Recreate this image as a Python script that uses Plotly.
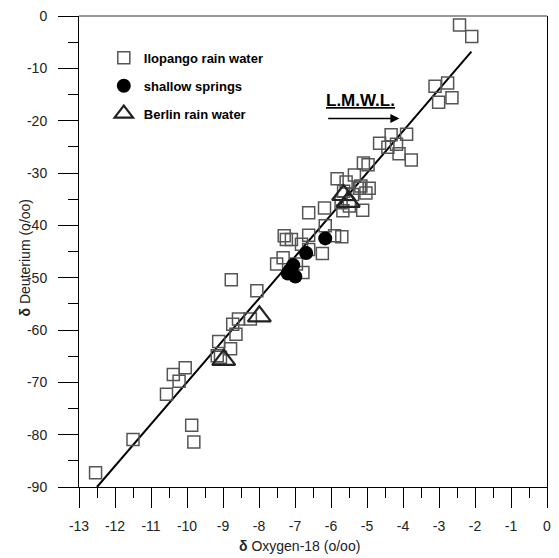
import plotly.graph_objects as go

# Ilopango rain water (delta O-18, delta D)
ilo_x = [-2.43, -2.09, -3.11, -2.76, -2.64, -3.01,
         -4.65, -4.33, -3.90, -4.42, -4.18, -4.11, -3.77,
         -5.10, -4.97,
         -5.83, -5.58, -5.35, -5.17, -5.03, -5.65, -5.40, -5.72, -5.49, -5.12, -6.18, -6.62, -5.67,
         -5.21, -4.94,
         -6.16, -5.70, -6.62, -6.24, -7.10, -6.82,
         -7.30, -7.24, -5.90, -7.33, -7.51, -6.96, -6.78, -8.06, -6.62,
         -8.77, -8.57, -8.73, -8.64, -8.24, -9.12, -8.79, -9.16, -9.07,
         -10.05, -10.38, -10.22, -10.57, -9.87, -9.81, -11.50, -12.54]
ilo_y = [-1.7, -3.9, -13.4, -12.8, -15.6, -16.5,
         -24.3, -22.7, -22.6, -25.1, -24.5, -26.3, -27.5,
         -28.1, -28.4,
         -31.1, -31.7, -30.4, -32.5, -33.8, -33.5, -34.1, -35.7, -36.3, -37.1, -36.7, -37.6, -37.2,
         -32.9, -32.9,
         -40.1, -42.2, -41.9, -45.4, -42.7, -43.6,
         -42.0, -42.7, -42.0, -46.2, -47.4, -47.4, -49.0, -52.5, -44.6,
         -50.4, -57.9, -58.9, -60.8, -57.9, -62.2, -63.6, -64.9, -65.2,
         -67.2, -68.5, -69.8, -72.3, -78.2, -81.4, -80.9, -87.3]

# shallow springs
spr_x = [-6.16, -6.69, -7.05, -7.15, -7.20, -6.99]
spr_y = [-42.5, -45.3, -47.6, -48.6, -49.2, -49.8]

# Berlin rain water
ber_x = [-5.65, -5.52, -7.99, -8.98]
ber_y = [-34.2, -35.5, -57.4, -65.7]

# Local meteoric water line endpoints
lmwl_x = [-12.5, -2.1]
lmwl_y = [-90.0, -6.8]

x_ticks = [-13, -12, -11, -10, -9, -8, -7, -6, -5, -4, -3, -2, -1, 0]
y_ticks = [-90, -80, -70, -60, -50, -40, -30, -20, -10, 0]

FONT = "Liberation Sans, Arial, sans-serif"

fig = go.Figure()
fig.add_trace(go.Scatter(x=lmwl_x, y=lmwl_y, mode="lines",
                         line=dict(color="black", width=2), showlegend=False, hoverinfo="skip"))
fig.add_trace(go.Scatter(x=ilo_x, y=ilo_y, mode="markers", name="Ilopango rain water",
                         legendgroup="a",
                         marker=dict(symbol="square-open", size=12, color="#555555",
                                     line=dict(width=1.5, color="#555555"))))
fig.add_trace(go.Scatter(x=spr_x, y=spr_y, mode="markers", name="shallow springs",
                         legendgroup="b",
                         marker=dict(symbol="circle", size=14, color="black",
                                     line=dict(width=0))))
fig.add_trace(go.Scatter(x=ber_x, y=ber_y, mode="markers", name="Berlin rain water",
                         legendgroup="c",
                         marker=dict(symbol="triangle-up-open", size=20, color="#222222",
                                     line=dict(width=2.2, color="#222222"))))

fig.add_annotation(x=-5.18, y=-16.2, text="<b><u>L.M.W.L.</u></b>", showarrow=False,
                   font=dict(family=FONT, size=17, color="black"))
fig.add_annotation(x=-4.10, y=-19.6, ax=-6.12, ay=-19.6, xref="x", yref="y",
                   axref="x", ayref="y", text="", showarrow=True,
                   arrowhead=2, arrowsize=1.2, arrowwidth=1.5, arrowcolor="black")

# axis titles
fig.add_annotation(x=(301.5 - 79) / 472, y=-(546 - 487) / 473, xref="paper", yref="paper",
                   text="<b>δ</b> Oxygen-18 (o/oo)", showarrow=False,
                   xanchor="center", yanchor="middle",
                   font=dict(family=FONT, size=14, color="#222222"))
fig.add_annotation(x=-(79 - 25) / 472, y=1 - (257 - 14) / 473, xref="paper", yref="paper",
                   text="<b>δ</b> Deuterium (o/oo)", showarrow=False, textangle=-90,
                   xanchor="center", yanchor="middle",
                   font=dict(family=FONT, size=14, color="#222222"))

# grey top border
fig.add_shape(type="line", xref="paper", yref="paper", x0=0, x1=1, y0=1, y1=1,
              line=dict(color="#777777", width=1.5))

fig.update_layout(
    width=559, height=558,
    margin=dict(l=79, r=8, t=14, b=71),
    plot_bgcolor="white", paper_bgcolor="white",
    font=dict(family=FONT, size=14, color="#222222"),
    legend=dict(x=0.053, y=0.943, xanchor="left", yanchor="top", traceorder="grouped",
                bgcolor="rgba(0,0,0,0)", font=dict(family=FONT, size=13, color="black",
                                                    weight="bold"),
                tracegroupgap=8, itemwidth=30),
    xaxis=dict(range=[-13, 0], tickvals=x_ticks, ticktext=[str(v) for v in x_ticks],
               ticks="outside", ticklen=20, tickwidth=1, tickcolor="black",
               showline=True, linecolor="black", linewidth=1, mirror=False,
               showgrid=False, zeroline=False, ticklabelstandoff=6,
               tickfont=dict(family=FONT, size=14, color="#222222"),
               minor=dict(dtick=0.5, ticks="outside", ticklen=10, tickcolor="black", tickwidth=1)),
    yaxis=dict(range=[-90, 0], tickvals=y_ticks, ticktext=[str(v) for v in y_ticks],
               ticks="outside", ticklen=20, tickwidth=1, tickcolor="black",
               showline=True, linecolor="black", linewidth=1, mirror=True,
               showgrid=False, zeroline=False, ticklabelstandoff=8,
               tickfont=dict(family=FONT, size=14, color="#222222"),
               minor=dict(dtick=5, ticks="outside", ticklen=10, tickcolor="black", tickwidth=1)),
)

fig.write_html("out.html")
